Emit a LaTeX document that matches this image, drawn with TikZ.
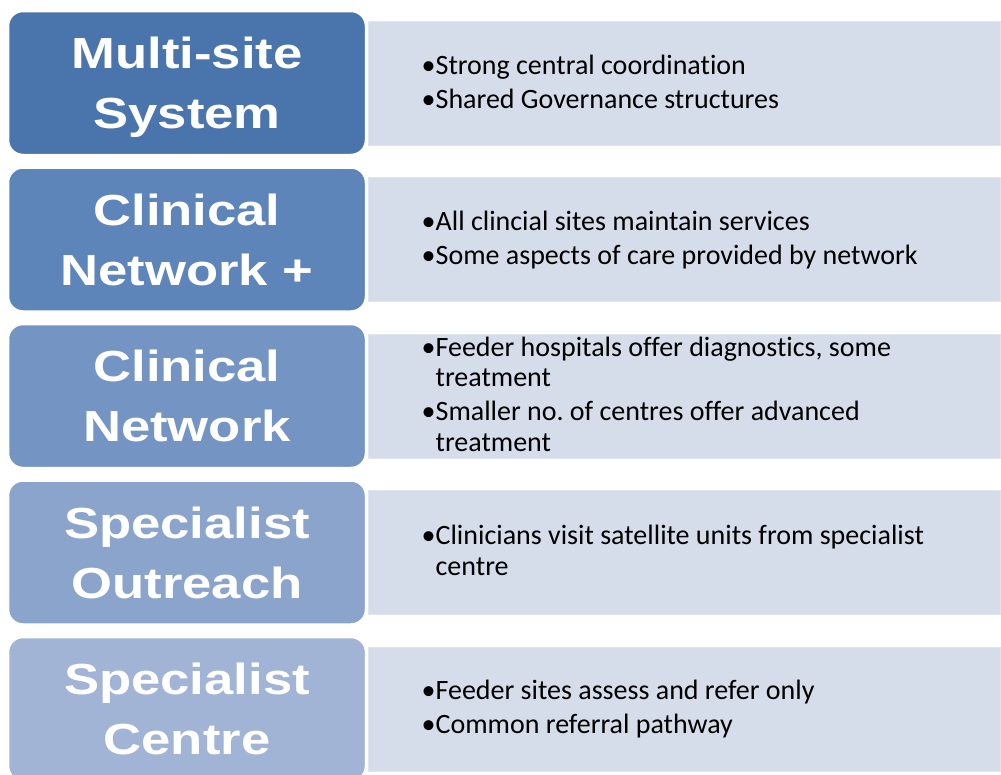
\documentclass[tikz,border=0pt]{standalone}
\usepackage{fontspec}
\newfontfamily\bodyfont{Carlito}[Ligatures=NoCommon]
\newfontfamily\headfont{Liberation Sans}[FakeStretch=1.21]

\definecolor{tierA}{RGB}{74,117,172}
\definecolor{tierB}{RGB}{94,133,186}
\definecolor{tierC}{RGB}{116,149,196}
\definecolor{tierD}{RGB}{139,164,204}
\definecolor{tierE}{RGB}{162,180,213}
\definecolor{detailfill}{RGB}{213,220,234}
\definecolor{detailedge}{RGB}{224,229,239}

% one bullet paragraph with a hanging indent under the bullet,
% set with the font's own word spaces and a plain ragged right edge
\newcommand\bpara[1]{\parskip=3.5pt\relax
  \spaceskip=\fontdimen2\font\relax\rightskip=0pt plus 1fil\relax
  \setbox0=\hbox{•}\hangindent=\wd0\hangafter=1\noindent\box0#1\par}

\tikzset{
  tier/.style={rounded corners=15pt, draw=white, line width=2.5pt,
    minimum width=358pt, minimum height=144pt, inner sep=0pt},
  detail/.style={draw=detailedge, line width=1pt, fill=detailfill,
    minimum width=632pt, minimum height=124pt, inner sep=0pt},
  tiertext/.style={text=white, font=\headfont\bfseries\fontsize{43.5pt}{60pt}\selectfont,
    text width=358pt, align=center, inner sep=0pt, anchor=base},
  detailtext/.style={font=\bodyfont\fontsize{28pt}{30.5pt}\selectfont\frenchspacing,
    text width=570pt, align=left, inner sep=0pt, anchor=base west},
}

\begin{document}
\begin{tikzpicture}[x=1pt, y=-1pt]
  \path[use as bounding box, fill=white] (0,0) rectangle (1001,774);
  \clip (0,0) rectangle (1001,774);

  % description panels
  \node[detail] (r1) at (684,83) {};
  \node[detail] (r2) at (684,239.5) {};
  \node[detail] (r3) at (684,396) {};
  \node[detail] (r4) at (684,552.5) {};
  \node[detail] (r5) at (684,709) {};

  % model tiers
  \node[tier, fill=tierA] (m1) at (187,83) {};
  \node[tier, fill=tierB] (m2) at (187,239.5) {};
  \node[tier, fill=tierC] (m3) at (187,396) {};
  \node[tier, fill=tierD] (m4) at (187,552.5) {};
  \node[tier, fill=tierE] (m5) at (187,709) {};

  % tier names
  \node[tiertext] (n1) at (187,68.5) {Multi-site\\System};
  \node[tiertext] (n2) at (187,225) {Clinical\\Network +};
  \node[tiertext] (n3) at (187,381.5) {Clinical\\Network};
  \node[tiertext] (n4) at (187,538) {Specialist\\Outreach};
  \node[tiertext] (n5) at (187,694.5) {Specialist\\Centre};

  % tier descriptions
  \node[detailtext] (d1) at (421.5,74.5)
    {\bpara{Strong central coordination}\bpara{Shared Governance structures}};
  \node[detailtext] (d2) at (421.5,230.5)
    {\bpara{All clincial sites maintain services}\bpara{Some aspects of care provided by network}};
  \node[detailtext] (d3) at (421.5,356)
    {\bpara{Feeder hospitals offer diagnostics, some\newline treatment}\bpara{Smaller no. of centres offer advanced\newline treatment}};
  \node[detailtext] (d4) at (421.5,544.75)
    {\bpara{Clinicians visit satellite units from specialist\newline centre}};
  \node[detailtext] (d5) at (421.5,699.5)
    {\bpara{Feeder sites assess and refer only}\bpara{Common referral pathway}};
\end{tikzpicture}
\end{document}
